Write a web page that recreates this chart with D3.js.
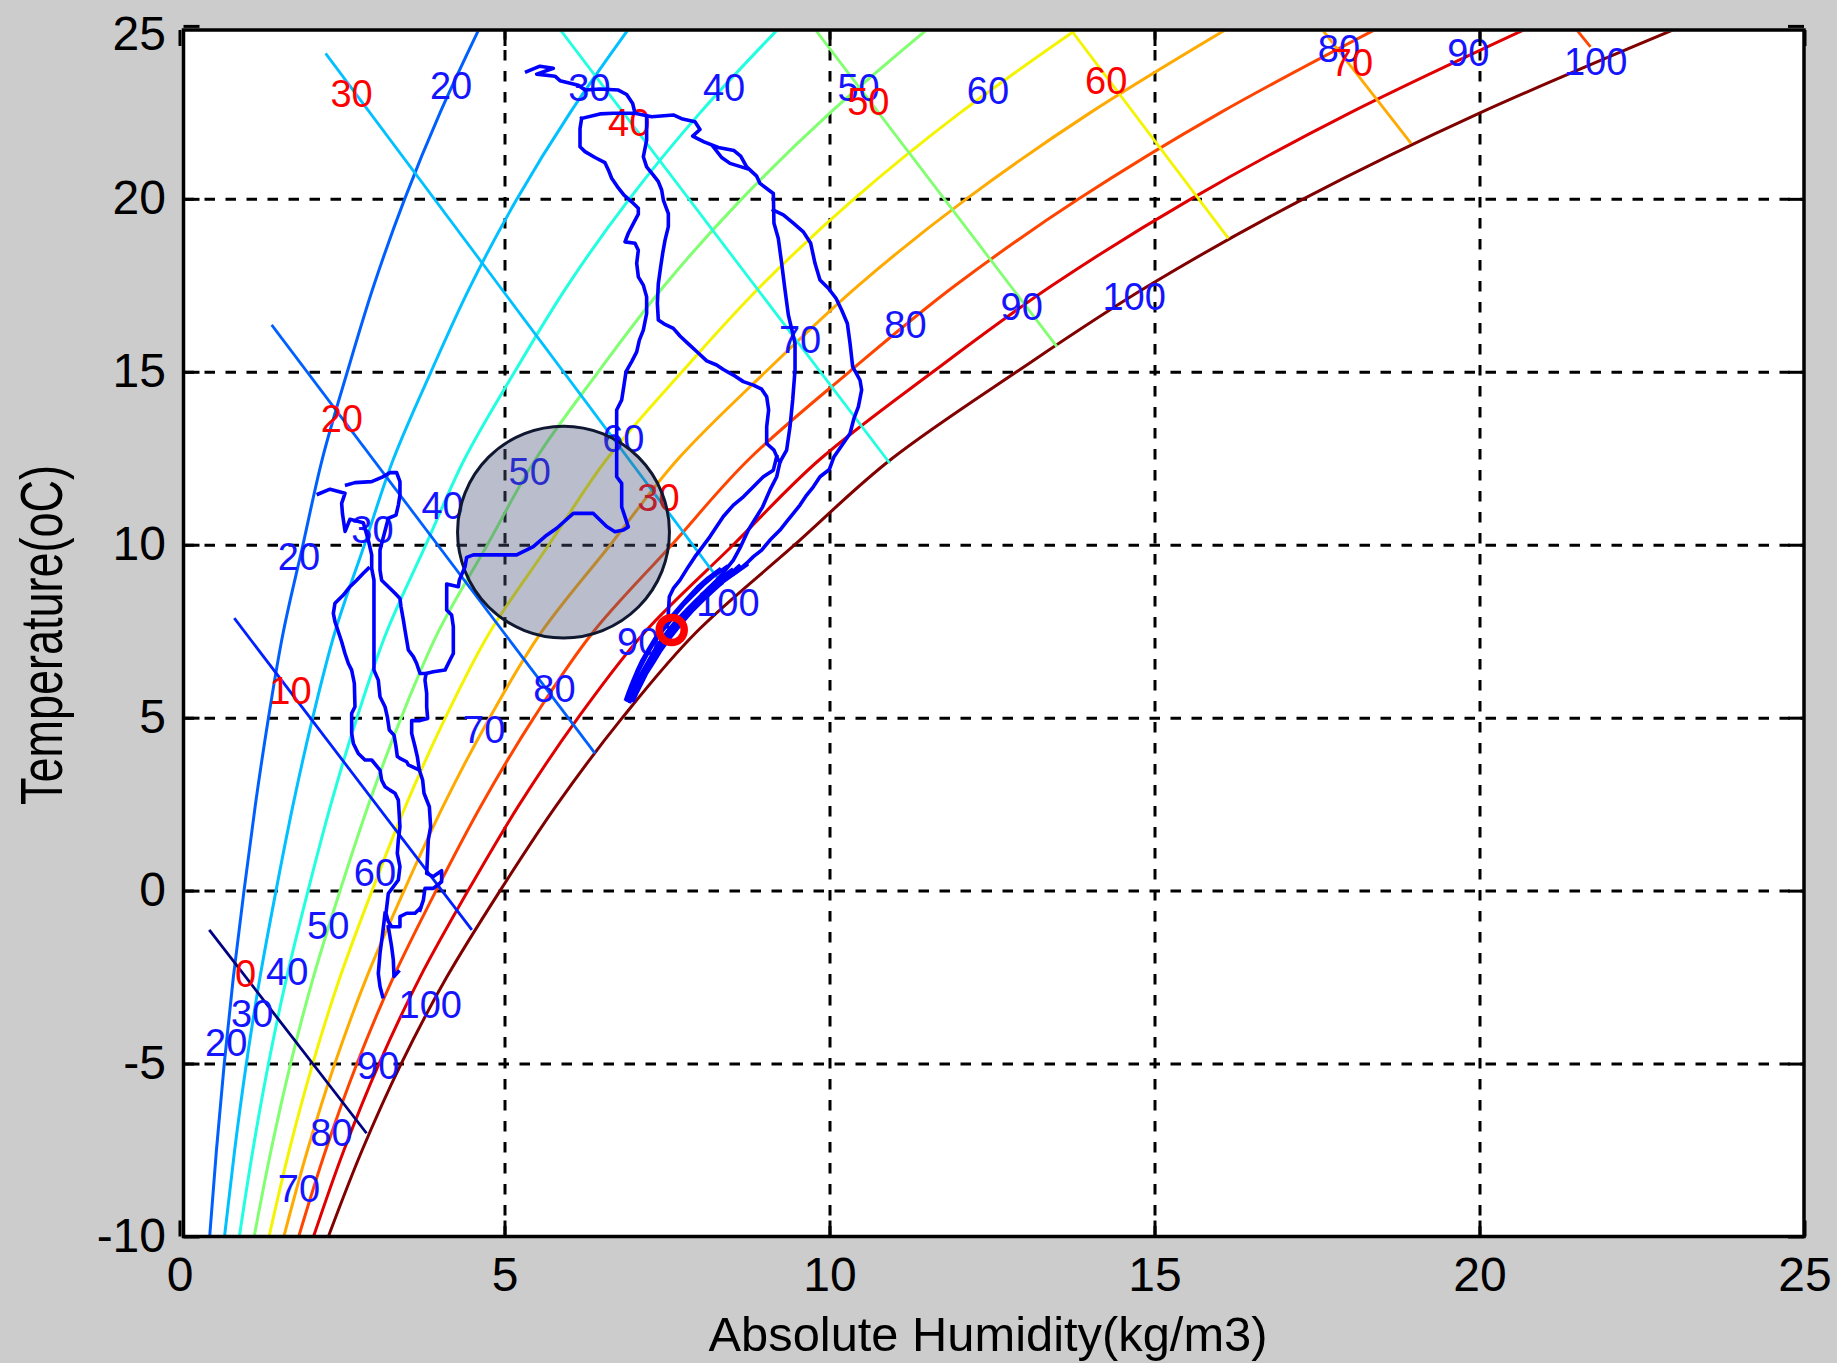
<!DOCTYPE html>
<html><head><meta charset="utf-8">
<script src="https://cdn.jsdelivr.net/npm/d3@7"></script>
<style>
html,body{margin:0;padding:0;background:#cccccc;}
svg{display:block;}
text{font-family:"Liberation Sans",Arial,sans-serif;}
</style></head><body>
<svg id="chart" width="1837" height="1363"></svg>
<script>
// ---------------- data ----------------
const xTicks = [0,5,10,15,20,25];
const yTicks = [-10,-5,0,5,10,15,20,25];
const xTitle = "Absolute Humidity(kg/m3)";
const yTitle = "Temperature(oC)";

// saturation (100%) curve
const satTemps    = [-10,-7.5,-5,-2.5,0,2.5,5,7.5,10,12.5,15,17.5,20,22.5,25];
const satHumidity = [2.28,2.80,3.40,4.10,4.92,5.80,6.80,7.95,9.45,10.95,12.86,14.90,17.27,20.0,23.1];
const rhLevels = [20,30,40,50,60,70,80,90,100];

// straight (enthalpy) lines: value, start [AH,T], end [AH,T]
const enthalpyLevels = [0,10,20,30,40,50,60,70,80];
const enthalpyStart = [[0.45,-1.12],[0.835,7.89],[1.41,16.37],[2.24,24.22],[5.835,24.94],[9.76,24.94],[13.71,24.89],[17.56,24.94],[21.47,24.94]];
const enthalpyEnd   = [[2.87,-7.0],[4.49,-1.12],[6.385,3.98],[8.35,8.85],[10.92,12.37],[13.49,15.74],[16.13,18.87],[18.94,21.62],[21.70,24.41]];

// labels: [text value, AH, T]
const rhLabels = [
 [20,4.17,23.29],[30,6.30,23.22],[40,8.37,23.22],[50,10.44,23.22],[60,12.43,23.12],
 [80,17.83,24.34],[90,19.82,24.24],[100,21.78,23.97],
 [70,9.54,15.94],[80,11.16,16.38],[90,12.95,16.89],[100,14.68,17.19],
 [20,1.83,9.67],[30,2.96,10.45],[40,4.04,11.13],[50,5.38,12.11],[60,6.82,13.06],
 [70,4.68,4.66],[80,5.76,5.85],[90,7.05,7.20],[100,8.43,8.32],
 [20,0.71,-4.38],[30,1.11,-3.54],[40,1.65,-2.35],[50,2.28,-1.00],[60,3.00,0.53],
 [70,1.83,-8.62],[80,2.33,-6.99],[90,3.05,-5.06],[100,3.85,-3.30]
];
const enthalpyLabels = [[0,1.01,-2.40],[10,1.70,5.78],[20,2.49,13.64],[30,2.64,23.05],[30,7.36,11.37],
 [40,6.91,22.21],[50,10.59,22.82],[60,14.25,23.43],[70,18.03,23.95]];

// highlighted zone and current point
const highlightCenter = [5.90,10.38];
const highlightRadiusAH = 1.63;
const currentPoint = [7.565,7.548];

// measured trajectory [AH, T]
const trajTop = [[5.333,23.69],[5.538,23.85],[5.744,23.79],[5.487,23.62],[5.769,23.56],[5.846,23.43],[6.128,23.30],[6.231,23.16],[6.461,23.19],[6.744,23.16],[6.872,23.03],[6.964,22.77],[7.000,22.49]];
const trajRightOuter = [[6.179,22.34],[6.461,22.47],[6.667,22.49],[7.000,22.49],[7.256,22.39],[7.590,22.44],[7.733,22.32],[7.923,22.24],[8.000,22.02],[7.887,21.83],[8.062,21.66],[8.282,21.50],[8.523,21.41],[8.626,21.25],[8.718,20.94],[8.872,20.67],[8.923,20.46],[9.128,20.17],[9.138,19.31],[9.205,18.87],[9.256,18.15],[9.308,17.38],[9.359,16.66],[9.462,15.84],[9.462,15.07],[9.426,14.20],[9.385,13.43],[9.333,12.75],[9.231,12.41],[9.180,11.98],[9.077,11.60],[8.964,11.11],[8.872,10.83],[8.744,10.44],[8.626,9.96],[8.513,9.57],[8.369,9.23],[8.256,8.99],[8.103,8.70],[7.949,8.42],[7.795,8.13],[7.641,7.84],[7.487,7.45],[7.333,7.07],[7.205,6.63],[7.103,6.30],[7.026,6.01],[6.964,5.72],[6.923,5.48]];
const trajLoopSecond = [[8.205,21.52],[8.333,21.21],[8.462,21.04],[8.718,20.89]];
const trajRightInner = [[9.128,19.69],[9.282,19.55],[9.436,19.31],[9.590,19.06],[9.703,18.73],[9.769,18.15],[9.846,17.67],[9.974,17.43],[10.092,17.14],[10.179,16.80],[10.267,16.41],[10.308,15.84],[10.349,15.16],[10.462,14.77],[10.487,14.49],[10.436,14.00],[10.369,13.67],[10.308,13.23],[10.205,12.95],[10.062,12.56],[9.990,12.19],[9.846,11.98],[9.744,11.69],[9.641,11.45],[9.538,11.16],[9.436,10.92],[9.333,10.68],[9.231,10.44],[9.077,10.15],[8.949,9.86],[8.821,9.67],[8.718,9.48],[8.564,9.23],[8.410,9.04],[8.256,8.85],[8.103,8.61],[7.949,8.34],[7.795,8.08],[7.667,7.86],[7.538,7.60],[7.410,7.26],[7.308,6.95],[7.205,6.60],[7.103,6.28],[7.015,5.96],[6.949,5.62]];
const trajMiddle = [[7.179,22.39],[7.179,21.71],[7.128,21.23],[7.179,20.94],[7.282,20.70],[7.359,20.51],[7.410,20.27],[7.436,19.98],[7.513,19.59],[7.513,19.21],[7.462,18.82],[7.426,18.44],[7.395,18.05],[7.359,17.57],[7.344,16.99],[7.359,16.51],[7.446,16.40],[7.590,16.27],[7.692,16.05],[7.821,15.82],[7.949,15.60],[8.103,15.33],[8.256,15.21],[8.359,15.08],[8.513,14.92],[8.667,14.73],[8.821,14.63],[8.949,14.51],[9.026,14.29],[9.056,13.91],[9.026,13.43],[9.026,12.94],[9.138,12.75],[9.205,12.46],[9.231,12.41]];
const trajInnerLeft = [[9.180,12.56],[9.128,12.17],[8.974,11.98],[8.821,11.69],[8.667,11.40],[8.513,11.16],[8.359,10.83],[8.256,10.54],[8.154,10.25],[8.000,9.86],[7.923,9.67],[7.821,9.38],[7.692,8.99],[7.590,8.75],[7.528,8.51],[7.513,8.03],[7.497,7.64]];
const trajBandA = [[8.487,9.28],[8.308,9.04],[8.128,8.75],[7.974,8.46],[7.821,8.18],[7.692,7.91],[7.564,7.65],[7.436,7.34],[7.323,7.02],[7.221,6.70],[7.128,6.39],[7.051,6.10],[6.985,5.81],[6.923,5.54]];
const trajBandB = [[8.718,9.43],[8.538,9.19],[8.359,8.95],[8.205,8.69],[8.051,8.42],[7.897,8.13],[7.769,7.86],[7.641,7.57],[7.513,7.26],[7.385,6.92],[7.282,6.60],[7.179,6.30],[7.103,6.01],[7.026,5.72],[6.974,5.51]];
const trajBandC = [[8.410,9.38],[8.231,9.14],[8.051,8.85],[7.897,8.56],[7.744,8.27],[7.615,7.98],[7.477,7.66],[7.359,7.36],[7.256,7.07],[7.154,6.73],[7.067,6.41],[7.000,6.10],[6.933,5.81],[6.882,5.52]];
const trajBandD = [[8.60,9.40],[8.42,9.10],[8.25,8.84],[8.10,8.58],[7.94,8.30],[7.80,8.03],[7.66,7.75],[7.54,7.47],[7.42,7.16],[7.31,6.85],[7.22,6.55],[7.13,6.22],[7.06,5.92],[6.99,5.62]];
const trajBandE = [[8.30,9.30],[8.12,9.05],[7.96,8.78],[7.82,8.50],[7.68,8.20],[7.55,7.92],[7.43,7.62],[7.31,7.31],[7.21,7.00],[7.11,6.68],[7.03,6.36],[6.96,6.05],[6.90,5.76],[6.86,5.55]];
const trajCenter = [[6.179,22.34],[6.154,22.05],[6.154,21.52],[6.231,21.38],[6.385,21.21],[6.538,21.06],[6.590,20.85],[6.641,20.61],[6.728,20.37],[6.831,20.12],[6.949,19.93],[7.051,19.74],[7.051,19.57],[6.974,19.30],[6.897,19.02],[6.846,18.77],[7.000,18.73],[7.051,18.53],[7.026,18.15],[7.051,17.76],[7.128,17.52],[7.179,17.18],[7.179,16.70],[7.128,16.22],[7.067,15.93],[7.026,15.59],[6.949,15.31],[6.862,15.02],[6.831,14.63],[6.795,14.20],[6.718,13.91],[6.718,13.43],[6.718,12.75],[6.718,11.98],[6.795,11.79],[6.795,11.11],[6.846,10.82],[6.897,10.53],[6.821,10.44],[6.692,10.39],[6.564,10.54],[6.359,10.92],[6.051,10.92],[5.795,10.49],[5.641,10.29],[5.436,9.96],[5.179,9.72],[4.513,9.72],[4.410,9.65],[4.385,9.38],[4.297,8.99],[4.282,8.80],[4.103,8.88],[4.103,8.13],[4.179,7.98],[4.205,7.64],[4.205,6.87],[4.154,6.68],[4.077,6.39],[3.897,6.34],[3.785,6.29],[3.769,6.10],[3.795,5.72],[3.795,5.33],[3.810,4.99],[3.692,4.93],[3.564,4.93],[3.564,4.56],[3.615,4.18],[3.651,3.89],[3.682,3.50],[3.733,3.21],[3.754,2.83],[3.836,2.44],[3.856,1.86],[3.820,1.48],[3.805,0.90],[3.795,0.51],[3.897,0.42],[4.025,0.59],[4.025,0.27],[3.897,0.08],[3.769,0.08],[3.744,-0.26],[3.692,-0.55]];
const trajLeftA = [[2.128,11.48],[2.308,11.62],[2.538,11.50],[2.487,11.21],[2.500,10.90],[2.540,10.40],[2.615,10.75],[2.820,10.65],[2.897,10.15],[2.949,9.72],[2.949,9.33],[2.984,8.99],[2.984,7.64],[2.984,6.39],[3.051,6.10],[3.077,5.62],[3.154,5.33],[3.190,5.04],[3.220,4.66],[3.292,4.51],[3.323,4.18],[3.343,3.89],[3.384,3.84],[3.487,3.74],[3.513,3.65],[3.682,3.50]];
const trajLeftB = [[2.564,11.74],[2.692,11.81],[2.949,11.84],[3.102,11.96],[3.231,12.10],[3.333,12.10],[3.384,11.84],[3.384,11.45],[3.359,11.16],[3.323,10.87],[3.205,10.78],[3.077,9.86],[3.077,9.28],[3.102,8.99],[3.205,8.80],[3.308,8.61],[3.384,8.46],[3.400,8.22],[3.436,7.84],[3.461,7.55],[3.487,7.26],[3.513,6.97],[3.590,6.78],[3.641,6.58],[3.692,6.29],[3.785,6.29]];
const trajLeftC = [[2.897,9.33],[2.820,9.19],[2.718,8.99],[2.615,8.80],[2.513,8.56],[2.384,8.32],[2.359,8.03],[2.384,7.79],[2.436,7.50],[2.487,7.21],[2.538,6.87],[2.590,6.58],[2.641,6.39],[2.682,6.01],[2.692,5.33],[2.641,5.14],[2.641,4.56],[2.667,4.27],[2.743,3.98],[2.846,3.79],[2.949,3.79],[3.077,3.50],[3.102,3.21],[3.154,3.02],[3.231,2.92],[3.308,2.83],[3.359,2.63],[3.384,1.86],[3.359,1.48],[3.343,1.09],[3.384,0.71],[3.359,0.32],[3.205,-0.07],[3.169,-0.64],[3.205,-0.88],[3.256,-1.03],[3.384,-1.03],[3.384,-0.74],[3.487,-0.64],[3.615,-0.64],[3.692,-0.50]];
const trajLeftD1 = [[3.154,-0.64],[3.118,-1.22],[3.077,-1.80],[3.051,-2.38],[3.077,-2.76],[3.118,-3.05]];
const trajLeftD2 = [[3.205,-1.03],[3.256,-1.61],[3.282,-1.99],[3.292,-2.47],[3.359,-2.33]];
const trajectory = [trajTop,trajRightOuter,trajLoopSecond,trajRightInner,trajMiddle,trajInnerLeft,
  trajBandA,trajBandB,trajBandC,trajBandD,trajBandE,trajCenter,trajLeftA,trajLeftB,trajLeftC,trajLeftD1,trajLeftD2];

// ---------------- styles ----------------
const levelColor = {0:'#000080',10:'#0020ff',20:'#0060ff',30:'#00c0ff',40:'#20ffe0',50:'#80ff70',
  60:'#f4f400',70:'#ffaa00',80:'#ff4400',90:'#e00000',100:'#800000'};

// ---------------- drawing ----------------
const svg = d3.select('#chart');
const x = d3.scaleLinear().domain([0,25]).range([180,1805]);
const y = d3.scaleLinear().domain([-10,25]).range([1237,26.4]);
const frame = {l:183.5, r:1804, t:30, b:1236.5};

svg.append('rect').attr('x',0).attr('y',0).attr('width',1837).attr('height',1363).attr('fill','#cccccc');
svg.append('rect').attr('x',frame.l).attr('y',frame.t).attr('width',frame.r-frame.l).attr('height',frame.b-frame.t).attr('fill','#ffffff');

svg.append('clipPath').attr('id','plotclip').append('rect')
  .attr('x',frame.l+1.5).attr('y',frame.t+1.5).attr('width',frame.r-frame.l-3).attr('height',frame.b-frame.t-3);

const plot = svg.append('g').attr('clip-path','url(#plotclip)');

// grid
const gGrid = plot.append('g').attr('stroke','#000').attr('stroke-width',3).attr('stroke-dasharray','10.5,10.5');
xTicks.filter(v=>v>0&&v<25).forEach(v=>{
  gGrid.append('line').attr('x1',x(v)).attr('x2',x(v)).attr('y1',frame.b).attr('y2',frame.t);
});
yTicks.filter(v=>v>-10&&v<25).forEach(v=>{
  gGrid.append('line').attr('x1',frame.l).attr('x2',frame.r).attr('y1',y(v)).attr('y2',y(v));
});

// RH curves
const curveLine = d3.line().x(d=>x(d[0])).y(d=>y(d[1])).curve(d3.curveMonotoneY);
rhLevels.forEach(rh=>{
  const pts = satTemps.map((t,i)=>[rh/100*satHumidity[i], t]);
  plot.append('path').attr('d',curveLine(pts)).attr('fill','none')
    .attr('stroke',levelColor[rh]).attr('stroke-width',3);
});

// enthalpy lines
enthalpyLevels.forEach((h,i)=>{
  plot.append('line').attr('x1',x(enthalpyStart[i][0])).attr('y1',y(enthalpyStart[i][1]))
    .attr('x2',x(enthalpyEnd[i][0])).attr('y2',y(enthalpyEnd[i][1]))
    .attr('stroke',levelColor[h]).attr('stroke-width',2.8);
});

// labels
const gLab = plot.append('g').attr('font-size',38).attr('text-anchor','middle').attr('dominant-baseline','central');
rhLabels.forEach(d=>{
  gLab.append('text').attr('x',x(d[1])).attr('y',y(d[2])).attr('fill','#1414ff').text(String(d[0]));
});
enthalpyLabels.forEach(d=>{
  gLab.append('text').attr('x',x(d[1])).attr('y',y(d[2])).attr('fill','#ff0000').text(String(d[0]));
});

// highlight circle
const hr = x(highlightCenter[0]+highlightRadiusAH)-x(highlightCenter[0]);
plot.append('circle').attr('cx',x(highlightCenter[0])).attr('cy',y(highlightCenter[1])).attr('r',hr)
  .attr('fill','#4c547b').attr('fill-opacity',0.39);
plot.append('circle').attr('cx',x(highlightCenter[0])).attr('cy',y(highlightCenter[1])).attr('r',hr)
  .attr('fill','none').attr('stroke','#0f1830').attr('stroke-width',3);

// trajectory
const trajLine = d3.line().x(d=>x(d[0])).y(d=>y(d[1]));
const gTraj = plot.append('g');
trajectory.forEach(seg=>{
  gTraj.append('path').attr('d',trajLine(seg)).attr('fill','none').attr('stroke','#0000ff')
    .attr('stroke-width',3.6).attr('stroke-linejoin','round').attr('stroke-linecap','square');
});

// current point
plot.append('circle').attr('cx',x(currentPoint[0])).attr('cy',y(currentPoint[1])).attr('r',12.5)
  .attr('fill','none').attr('stroke','#ff0000').attr('stroke-width',7.5);

// frame
svg.append('rect').attr('x',frame.l).attr('y',frame.t).attr('width',frame.r-frame.l).attr('height',frame.b-frame.t)
  .attr('fill','none').attr('stroke','#000').attr('stroke-width',3.5);

// ticks
const gTicks = svg.append('g').attr('stroke','#000').attr('stroke-width',3);
const tl = 16;
xTicks.forEach(v=>{
  gTicks.append('line').attr('x1',x(v)).attr('x2',x(v)).attr('y1',frame.b).attr('y2',frame.b-tl);
  gTicks.append('line').attr('x1',x(v)).attr('x2',x(v)).attr('y1',frame.t).attr('y2',frame.t+tl);
});
yTicks.forEach(v=>{
  gTicks.append('line').attr('x1',frame.l).attr('x2',frame.l+tl).attr('y1',y(v)).attr('y2',y(v));
  gTicks.append('line').attr('x1',frame.r).attr('x2',frame.r-tl).attr('y1',y(v)).attr('y2',y(v));
});

// tick labels
const gTL = svg.append('g').attr('font-size',48).attr('fill','#000');
xTicks.forEach(v=>{
  gTL.append('text').attr('x',x(v)).attr('y',1274).attr('text-anchor','middle')
    .attr('dominant-baseline','central').text(String(v));
});
yTicks.forEach(v=>{
  gTL.append('text').attr('x',166).attr('y',Math.max(y(v)-2,33)).attr('text-anchor','end')
    .attr('dominant-baseline','central').text(String(v));
});

// axis titles
svg.append('text').attr('x',988).attr('y',1351).attr('text-anchor','middle').attr('font-size',49)
  .attr('textLength',559).attr('lengthAdjust','spacingAndGlyphs').text(xTitle);
svg.append('text').attr('transform','translate(62,635) rotate(-90)').attr('text-anchor','middle')
  .attr('font-size',60).attr('textLength',340).attr('lengthAdjust','spacingAndGlyphs').text(yTitle);
</script>
</body></html>
